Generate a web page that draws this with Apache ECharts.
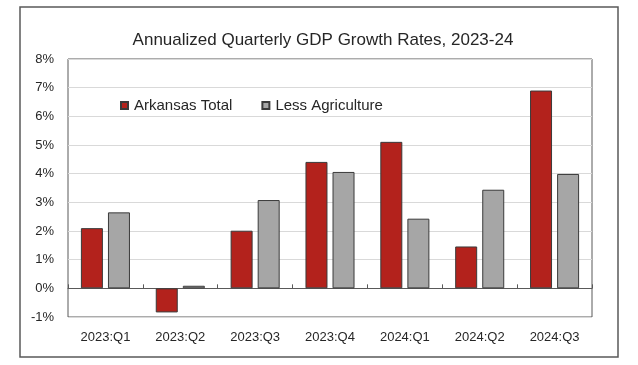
<!DOCTYPE html>
<html>
<head>
<meta charset="utf-8">
<script src="https://cdn.jsdelivr.net/npm/echarts@6/dist/echarts.min.js"></script>
<style>html,body{margin:0;padding:0;background:#fff}#c{width:638px;height:365px}</style>
</head>
<body>
<div id="c"></div>
<script>
const categories = ['2023:Q1','2023:Q2','2023:Q3','2023:Q4','2024:Q1','2024:Q2','2024:Q3'];
const arkansasTotal = [2.10, -0.84, 2.01, 4.41, 5.11, 1.46, 6.90];
const lessAgriculture = [2.65, 0.09, 3.08, 4.06, 2.43, 3.44, 3.99];
const yTicks = [-1, 0, 1, 2, 3, 4, 5, 6, 7, 8];

const font = 'Liberation Sans, Arial, sans-serif';
const chart = echarts.init(document.getElementById('c'), null, {renderer: 'canvas'});
chart.setOption({
  animation: false,
  backgroundColor: '#fff',
  title: {
    text: 'Annualized Quarterly GDP Growth Rates, 2023-24',
    left: 318, textAlign: 'center', top: 27,
    textStyle: {fontFamily: font, fontSize: 17, fontWeight: 'normal', color: '#262626'}
  },
  legend: {
    left: 115, top: 93, itemWidth: 7, itemHeight: 7, itemGap: 29,
    icon: 'rect',
    textStyle: {fontFamily: font, fontSize: 15, color: '#262626', padding: [0,0,0,1]},
    data: ['Arkansas Total', 'Less Agriculture']
  },
  grid: {left: 68, right: 46, top: 59, bottom: 48, show: true, borderColor: '#595959', borderWidth: 1, containLabel: false},
  xAxis: [{
    type: 'category', data: categories,
    axisLine: {show: false, onZero: false},
    axisTick: {show: false},
    axisLabel: {fontFamily: font, fontSize: 13, color: '#262626', margin: 14}
  }, {
    type: 'category', data: categories, position: 'bottom',
    axisLine: {show: true, onZero: true, lineStyle: {color: '#595959', width: 1}},
    axisTick: {show: true, inside: true, length: 4, lineStyle: {color: '#595959'}},
    axisLabel: {show: false}
  }],
  yAxis: {
    type: 'value', min: yTicks[0], max: yTicks[yTicks.length-1], interval: 1,
    axisLine: {show: false}, axisTick: {show: false},
    axisLabel: {fontFamily: font, fontSize: 13, color: '#262626', margin: 14, formatter: v => v + '%'},
    splitLine: {lineStyle: {color: '#d9d9d9', width: 1}}
  },
  series: [{
    name: 'Arkansas Total', type: 'bar', data: arkansasTotal, xAxisIndex: 0,
    barWidth: 22, barGap: '23%',
    itemStyle: {color: '#b3221c', borderColor: '#3a3a3a', borderWidth: 1}
  }, {
    name: 'Less Agriculture', type: 'bar', data: lessAgriculture, xAxisIndex: 0,
    barWidth: 22, barGap: '23%',
    itemStyle: {color: '#a6a6a6', borderColor: '#3a3a3a', borderWidth: 1}
  }],
  graphic: [{
    type: 'rect', shape: {x: 20, y: 7, width: 598, height: 350}, silent: true,
    style: {fill: null, stroke: '#595959', lineWidth: 1.5}, z: -1
  }]
});
</script>
</body>
</html>
